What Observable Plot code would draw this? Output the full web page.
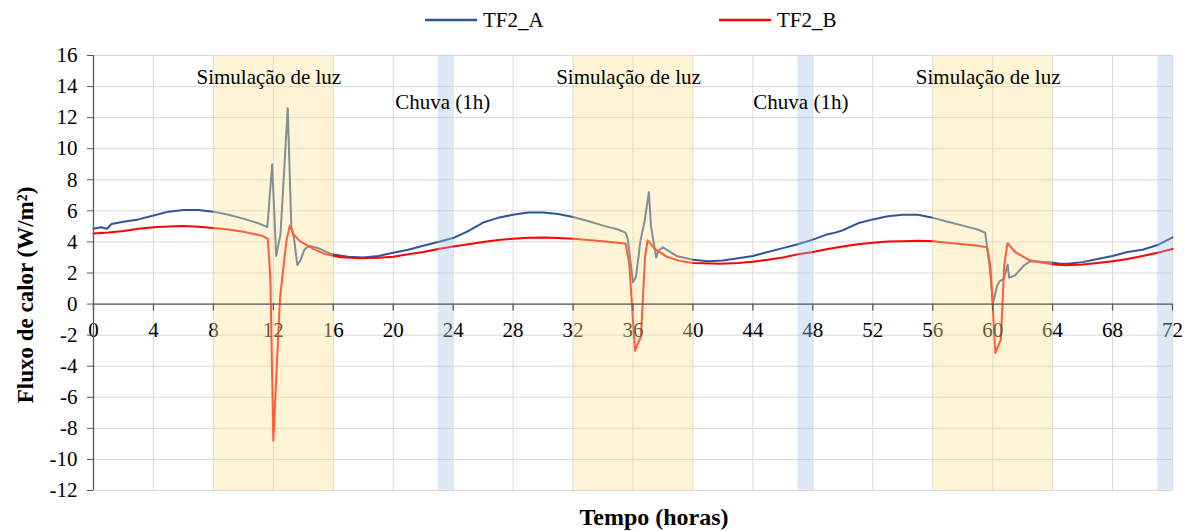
<!DOCTYPE html>
<html>
<head>
<meta charset="utf-8">
<script src="https://cdn.jsdelivr.net/npm/d3@7"></script>
<script src="https://cdn.jsdelivr.net/npm/@observablehq/plot@0.6"></script>
<style>
  html, body { margin: 0; padding: 0; background: #fff; }
  #wrap { width: 1188px; font-family: "Liberation Serif", "Times New Roman", serif; }
  #legend { position: relative; height: 40px; width: 1188px; }
  .item { position: absolute; top: 8px; display: flex; align-items: center; font-size: 21px; color: #000; line-height: 24px; }
  .item svg { margin-right: 6px; }
  #chart svg, #chart svg text { font-family: "Liberation Serif", "Times New Roman", serif !important; font-variant: normal !important; }
</style>
</head>
<body>
<div id="wrap">
  <div id="legend"></div>
  <div id="chart"></div>
</div>
<script>
// ---- data ----
const seriesNames = ["TF2_A", "TF2_B"];
const seriesColors = ["#2f5597", "#ff0000"];

const tA = [0,0.5,0.9,1.2,2,3,4,5,6,7,8,9,10,11,11.6,11.92,12.19,12.48,12.96,13.2,13.4,13.6,13.8,14.07,14.4,15,15.9,17,18,19,20,21,22,23,24,25,26,27,28,29,30,31,32,33,34,35,35.5,35.65,36.0,36.2,36.5,36.77,37.06,37.2,37.55,37.7,38,38.9,40,41,42,43,44,45,46,47,48,49,49.5,50,51,52,53,54,55,56,57,58,59,59.5,59.8,60.03,60.3,60.5,60.75,61.0,61.1,61.5,62.1,62.5,63.8,64.5,65,66,67,68,69,70,71,72];
const vA = [4.85,4.95,4.85,5.15,5.3,5.45,5.7,5.95,6.05,6.05,5.95,5.75,5.5,5.2,4.95,9.0,3.1,4.5,12.6,5.0,4.1,2.5,2.8,3.5,3.75,3.6,3.2,3.05,3.0,3.1,3.3,3.5,3.75,4.0,4.25,4.7,5.25,5.55,5.75,5.9,5.9,5.8,5.6,5.35,5.05,4.8,4.6,4.2,1.4,1.75,4.1,5.3,7.2,5.0,3.0,3.45,3.65,3.1,2.85,2.75,2.8,2.95,3.1,3.35,3.6,3.85,4.15,4.5,4.6,4.75,5.2,5.45,5.65,5.75,5.75,5.55,5.3,5.05,4.8,4.6,2.4,0.1,1.2,1.5,1.6,2.55,1.7,1.85,2.5,2.75,2.7,2.6,2.6,2.7,2.9,3.1,3.35,3.5,3.8,4.3];

const tB = [0,1,2,3,4,5,6,7,8,9,10,11,11.25,11.63,11.8,12.0,12.27,12.45,12.88,13.1,13.33,13.77,14.66,15.5,16.5,17.8,19,20,21,22,23,24,25,26,27,28,29,30,31,32,33,34,35,35.5,35.75,36.13,36.53,36.8,36.97,37.46,38.24,39.1,40,41.8,43,44,45,46,47,48,49,50,51,52,53,54,55,56,57,58,59,59.63,59.85,60.18,60.55,60.77,60.99,61.5,62.5,64.1,64.9,66,67,68,69,70,71,72];
const vB = [4.55,4.6,4.7,4.85,4.95,5.0,5.02,4.98,4.9,4.8,4.65,4.45,4.4,4.2,1.7,-8.8,-3.2,0.45,4.1,5.05,4.5,4.05,3.55,3.2,3.02,2.95,2.98,3.05,3.2,3.35,3.55,3.7,3.85,4.0,4.12,4.2,4.27,4.28,4.25,4.2,4.12,4.05,3.95,3.88,2.6,-3.0,-2.1,3.0,4.1,3.55,3.05,2.78,2.65,2.6,2.65,2.72,2.85,3.0,3.2,3.35,3.55,3.7,3.85,3.95,4.02,4.05,4.07,4.05,3.95,3.85,3.75,3.65,2.4,-3.15,-2.25,2.5,3.92,3.35,2.8,2.55,2.5,2.55,2.65,2.75,2.9,3.1,3.3,3.55];

const lightStart = [8, 32, 56];
const lightEnd = [16, 40, 64];
const rainStart = [23, 47, 71];
const rainEnd = [24, 48, 72];

const lightLabel = "Simulação de luz";
const lightLabelX = [11.7, 35.7, 59.7];
const lightLabelY = 14.6;
const rainLabel = "Chuva (1h)";
const rainLabelX = [23.3, 47.2];
const rainLabelY = 13.0;

const xTicks = d3.range(0, 73, 4);
const yTicks = d3.range(-12, 17, 2);
const xDomain = [0, 72];
const yDomain = [-12, 16];
const xTitle = "Tempo (horas)";
const yTitle = "Fluxo de calor (W/m²)";

// ---- tables ----
const dataA = tA.map((t, i) => ({t, v: vA[i], s: seriesNames[0]}));
const dataB = tB.map((t, i) => ({t, v: vB[i], s: seriesNames[1]}));
const lightBands = lightStart.map((s, i) => ({x1: s, x2: lightEnd[i]}));
const rainBands = rainStart.map((s, i) => ({x1: s, x2: rainEnd[i]}));
const lightLabels = lightLabelX.map(x => ({x, y: lightLabelY, text: lightLabel}));
const rainLabels = rainLabelX.map(x => ({x, y: rainLabelY, text: rainLabel}));

// ---- legend ----
const legend = document.getElementById("legend");
const legendLeft = [425, 719];
seriesNames.forEach((name, i) => {
  const it = document.createElement("div");
  it.className = "item";
  it.style.left = legendLeft[i] + "px";
  it.innerHTML = `<svg width="52" height="4"><line x1="0" y1="2" x2="52" y2="2" stroke="${seriesColors[i]}" stroke-width="2.5"/></svg><span>${name}</span>`;
  legend.appendChild(it);
});

const font = "Liberation Serif";

const chart = Plot.plot({
  width: 1188,
  height: 491,
  marginLeft: 93,
  marginRight: 16,
  marginTop: 15,
  marginBottom: 41,
  style: {fontFamily: font, fontSize: "21px", background: "#fff", overflow: "visible"},
  x: {domain: xDomain, axis: null},
  y: {domain: yDomain, axis: null},
  marks: [
    Plot.gridY(yTicks, {stroke: "#d9d9d9", strokeOpacity: 1, strokeWidth: 1}),
    Plot.gridX(xTicks, {stroke: "#d9d9d9", strokeOpacity: 1, strokeWidth: 1}),
    Plot.line(dataA, {x: "t", y: "v", stroke: seriesColors[0], strokeWidth: 2}),
    Plot.line(dataB, {x: "t", y: "v", stroke: seriesColors[1], strokeWidth: 2}),
    Plot.text(xTicks, {x: d => d, y: 0, dy: 26, text: d => String(d), fontSize: 21, fontFamily: font, fill: "#000"}),
    Plot.axisY({ticks: yTicks, tickSize: 6, tickPadding: 10, fontSize: 21, fontFamily: font, fontVariant: "normal", tickFormat: d => String(d), stroke: "#595959", fill: "#000", label: null}),
    Plot.rect(lightBands, {x1: "x1", x2: "x2", fill: "#ffe699", fillOpacity: 0.4}),
    Plot.rect(rainBands, {x1: "x1", x2: "x2", fill: "#9dc3e6", fillOpacity: 0.36}),
    Plot.ruleY([0], {stroke: "#595959", strokeWidth: 1.3}),
    Plot.ruleX([xDomain[0]], {stroke: "#595959", strokeWidth: 1.3}),
    Plot.ruleX(xTicks, {x: d => d, y1: 0, y2: -0.45, stroke: "#595959", strokeWidth: 1.3}),
    Plot.text(lightLabels, {x: "x", y: "y", text: "text", fontSize: 21, fontFamily: font, fill: "#000"}),
    Plot.text(rainLabels, {x: "x", y: "y", text: "text", fontSize: 21, fontFamily: font, fill: "#000"}),
    Plot.text([xTitle], {frameAnchor: "bottom", dx: 21, dy: 34, text: d => d, fontSize: 24, fontFamily: font, fontWeight: "bold", fill: "#000"}),
    Plot.text([yTitle], {frameAnchor: "left", textAnchor: "middle", dx: -68, dy: 22, rotate: -90, text: d => d, fontSize: 23, fontFamily: font, fontWeight: "bold", fill: "#000"})
  ]
});
document.getElementById("chart").appendChild(chart);
</script>
</body>
</html>
